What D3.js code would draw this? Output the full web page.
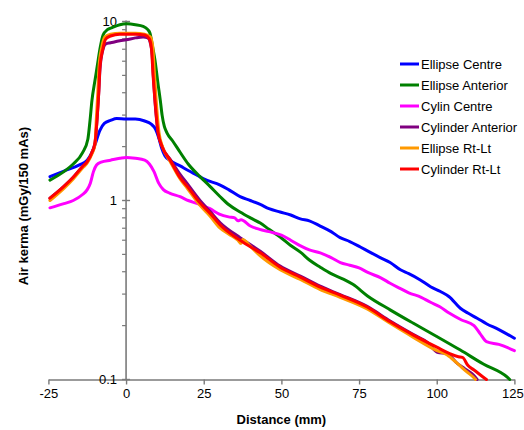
<!DOCTYPE html>
<html>
<head>
<meta charset="utf-8">
<script src="https://cdn.jsdelivr.net/npm/d3@7"></script>
<style>
  body { margin: 0; background: #fff; }
  svg { display: block; font-family: "Liberation Sans", Arial, sans-serif; }
</style>
</head>
<body>
<svg id="chart" width="524" height="430"></svg>
<script>
// series names and colours
const seriesNames = ["Ellipse Centre", "Ellipse Anterior", "Cylin Centre", "Cylinder Anterior", "Ellipse Rt-Lt", "Cylinder Rt-Lt"];
const seriesColors = ["#0000ff", "#008000", "#ff00ff", "#800080", "#ff9900", "#ff0000"];

const xTicks = [-25, 0, 25, 50, 75, 100, 125];
const yTickLabels = [0.1, 1, 10];

// [distance mm, air kerma mGy/150 mAs]
const ellipseCentre = [[-24.5,1.36],[-20,1.46],[-15,1.58],[-12.5,1.68],[-11,1.85],[-10,2.05],[-8.5,2.45],[-7,2.7],[-5,2.8],[-3,2.87],[0,2.85],[3,2.85],[6,2.78],[8,2.68],[9.5,2.5],[10.5,2.25],[11.5,1.95],[12.5,1.78],[14,1.68],[17.4,1.56],[20,1.47],[23,1.38],[25,1.32],[30.3,1.22],[33,1.15],[36.7,1.05],[40,1.0],[43.2,0.95],[46,0.9],[49.6,0.862],[53,0.83],[56.1,0.79],[59,0.77],[62.5,0.72],[66,0.67],[68.9,0.62],[72,0.59],[75.4,0.55],[78,0.52],[81.8,0.48],[85,0.45],[88.3,0.41],[91,0.39],[94.7,0.36],[98,0.33],[101.2,0.31],[104,0.29],[107.6,0.25],[110,0.235],[113,0.22],[116,0.205],[120,0.19],[125,0.17]];

const ellipseAnterior = [[-24.5,1.3],[-20,1.45],[-17,1.6],[-14,1.85],[-12.3,2.2],[-11.6,2.8],[-11,3.6],[-10,4.7],[-9.3,5.6],[-8.3,7.2],[-7.4,8.4],[-6,9.0],[-4.5,9.25],[-2,9.6],[0.3,9.7],[3,9.6],[5.5,9.4],[7,9.0],[7.7,8.6],[8.5,7.3],[9.3,6.1],[10.2,4.6],[11,3.65],[11.6,3.0],[12.3,2.6],[13.2,2.38],[15,2.15],[17.4,1.86],[20,1.6],[23.8,1.36],[27,1.2],[30.3,1.05],[33,0.95],[36.7,0.862],[40,0.8],[43.2,0.748],[46,0.69],[49.6,0.625],[53,0.56],[56.1,0.515],[59,0.465],[62.5,0.424],[66,0.39],[69.9,0.364],[73,0.34],[77.6,0.294],[85,0.245],[92.5,0.206],[100,0.174],[107.6,0.146],[115,0.122],[122.7,0.103],[123.5,0.1]];

const cylinCentre = [[-24.5,0.91],[-20,0.96],[-17,1.0],[-14,1.08],[-12.5,1.15],[-11.5,1.25],[-10.5,1.45],[-9.5,1.58],[-8,1.64],[-5,1.68],[-2,1.72],[0,1.74],[3,1.72],[6,1.68],[7.5,1.6],[9,1.45],[10.5,1.25],[12,1.15],[14,1.1],[17.4,1.05],[20,1.0],[23,0.96],[27,0.9],[30,0.84],[33,0.81],[35,0.8],[36,0.77],[37,0.78],[40,0.72],[43,0.69],[46,0.67],[50,0.64],[53,0.6],[56,0.56],[59,0.53],[62.5,0.51],[66,0.48],[69,0.45],[72,0.435],[75,0.42],[78,0.395],[82,0.37],[85,0.345],[88,0.324],[91,0.305],[95,0.288],[98,0.27],[101,0.255],[104,0.235],[108,0.215],[112,0.2],[114,0.18],[116,0.163],[120,0.157],[125,0.145]];

const cylinderAnterior = [[-24.5,1.03],[-20,1.2],[-17,1.35],[-14,1.55],[-12.5,1.65],[-11,1.85],[-10,2.1],[-9.3,2.9],[-8.8,4.0],[-8.4,5.4],[-7.5,6.9],[-6.5,7.5],[-5,7.6],[-2,7.8],[0,7.9],[3,8.1],[5.5,8.2],[7,8.1],[7.8,7.6],[8.4,6.5],[8.8,4.9],[9.3,3.6],[10.3,2.4],[11.6,2.0],[14.2,1.7],[17.4,1.4],[19.7,1.24],[23.8,1.0],[27,0.87],[30.3,0.75],[36.7,0.62],[43.2,0.52],[49.6,0.43],[56.1,0.378],[62.5,0.332],[68.9,0.298],[77.6,0.256],[85,0.212],[92.5,0.178],[97,0.161],[100.2,0.142],[103.4,0.139],[106.6,0.123],[109,0.115],[111.8,0.106],[113,0.1]];

const ellipseRtLt = [[-24.5,1.0],[-20,1.17],[-17,1.32],[-14,1.52],[-12.5,1.62],[-11,1.82],[-10,2.05],[-9.6,2.8],[-9.1,4.0],[-8.7,5.6],[-7.8,7.2],[-6.8,8.2],[-5,8.5],[-2,8.6],[0,8.6],[3,8.6],[6,8.5],[7.8,8.2],[8.6,7.2],[9.1,5.2],[9.7,3.6],[10.6,2.4],[11.8,1.98],[14.2,1.65],[17.4,1.32],[19.7,1.17],[23.8,0.94],[27,0.82],[30.3,0.7],[33,0.65],[36,0.6],[37,0.575],[37.5,0.605],[40,0.555],[43.2,0.49],[49.6,0.41],[56.1,0.362],[62.5,0.318],[68.9,0.288],[77.6,0.248],[85,0.206],[92.5,0.172],[99.7,0.146],[103.4,0.137],[106.6,0.123],[109.8,0.11],[111.8,0.103],[112.5,0.1]];

const cylinderRtLt = [[-24.5,1.03],[-20,1.2],[-17,1.35],[-14,1.55],[-12.5,1.65],[-11,1.85],[-10,2.1],[-9.3,2.9],[-8.8,4.0],[-8.4,5.6],[-7.5,7.0],[-6.5,8.0],[-5,8.3],[-2,8.5],[0,8.5],[3,8.5],[6,8.4],[7.5,8.0],[8.2,7.0],[8.7,5.0],[9.3,3.65],[10.3,2.4],[11.6,2.0],[14.2,1.68],[17.4,1.34],[19.7,1.2],[23.8,0.97],[27,0.85],[30.3,0.73],[36.7,0.6],[43.2,0.51],[49.6,0.424],[56.1,0.373],[62.5,0.328],[68.9,0.296],[77.6,0.254],[85,0.21],[92.5,0.177],[100.2,0.151],[104,0.14],[107,0.134],[108.3,0.133],[110,0.12],[112,0.113],[115,0.103],[116,0.1]];

const allSeries = [ellipseCentre, ellipseAnterior, cylinCentre, cylinderAnterior, ellipseRtLt, cylinderRtLt];

const svg = d3.select("#chart");
const axisColor = "#7a7a7a";

const x = d3.scaleLinear().domain([-25, 125]).range([48.4, 514.4]);
const y = d3.scaleLog().domain([0.1, 10]).range([379.5, 21.5]);

// x axis on the y=0.1 baseline
const xAxis = d3.axisBottom(x).tickValues(xTicks).tickFormat(d => String(d))
  .tickSize(5).tickSizeOuter(0).tickPadding(4);
const gx = svg.append("g").attr("transform", `translate(0,${y(0.1)})`).call(xAxis);
gx.select(".domain").attr("stroke", axisColor).attr("stroke-width", 1.6);
gx.selectAll(".tick line").attr("stroke", axisColor).attr("stroke-width", 1.4);
gx.selectAll(".tick text").attr("font-size", 13).attr("fill", "#000")
  .attr("font-family", "Liberation Sans, Arial, sans-serif")
  .attr("dx", d => d === 125 ? -2 : 0);

// y axis crossing at distance 0
const minorVals = [];
for (const dec of [0.1, 1]) for (let k = 2; k <= 9; k++) minorVals.push(dec * k);
const gy = svg.append("g").attr("transform", `translate(${x(0)},0)`);
gy.append("line").attr("y1", y(0.1)).attr("y2", y(10) - 1)
  .attr("stroke", axisColor).attr("stroke-width", 1.6);
gy.selectAll(".minor").data(minorVals).join("line").attr("class", "minor")
  .attr("x1", -4).attr("x2", 0).attr("y1", d => y(d)).attr("y2", d => y(d))
  .attr("stroke", axisColor).attr("stroke-width", 1.2);
gy.selectAll(".major").data(yTickLabels).join("line").attr("class", "major")
  .attr("x1", -4).attr("x2", 4).attr("y1", d => y(d)).attr("y2", d => y(d))
  .attr("stroke", axisColor).attr("stroke-width", 1.4);
gy.selectAll("text").data(yTickLabels).join("text")
  .attr("x", -9).attr("y", d => y(d)).attr("dy", "0.35em")
  .attr("text-anchor", "end").attr("font-size", 13).text(d => d3.format("~g")(d));

// lines
const line = d3.line().x(d => x(d[0])).y(d => y(d[1])).curve(d3.curveMonotoneX);
svg.append("g").selectAll("path").data(allSeries).join("path")
  .attr("d", line).attr("fill", "none")
  .attr("stroke", (_, i) => seriesColors[i]).attr("stroke-width", 3)
  .attr("stroke-linejoin", "round").attr("stroke-linecap", "round");

// axis titles
svg.append("text").attr("x", (x(-25) + x(125)) / 2).attr("y", 424)
  .attr("text-anchor", "middle").attr("font-size", 13).attr("font-weight", "bold")
  .text("Distance (mm)");
svg.append("text").attr("transform", "translate(28,206) rotate(-90)")
  .attr("text-anchor", "middle").attr("font-size", 13).attr("font-weight", "bold")
  .text("Air kerma (mGy/150 mAs)");

// legend
const legend = svg.append("g").attr("transform", "translate(400,64)");
const items = legend.selectAll("g").data(seriesNames).join("g")
  .attr("transform", (_, i) => `translate(0,${i * 21})`);
items.append("line").attr("x1", 0).attr("x2", 19)
  .attr("stroke", (_, i) => seriesColors[i]).attr("stroke-width", 3);
items.append("text").attr("x", 21).attr("dy", "0.35em").attr("font-size", 13).text(d => d);
</script>
</body>
</html>
